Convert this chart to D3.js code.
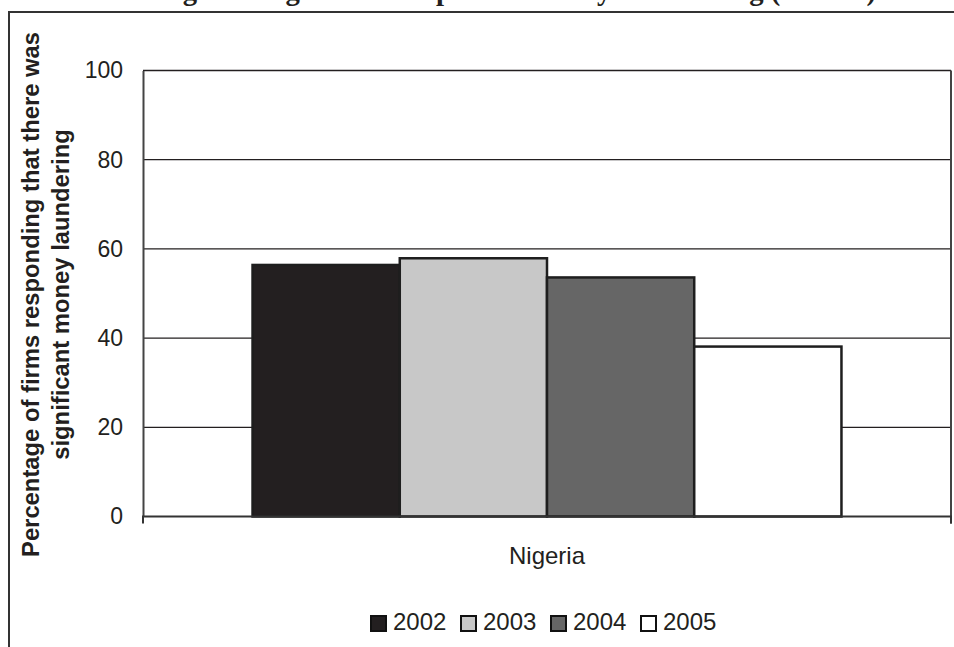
<!DOCTYPE html>
<html>
<head>
<meta charset="utf-8">
<script src="https://cdn.jsdelivr.net/npm/d3@7"></script>
<style>
  body { margin: 0; background: #fff; }
  svg { display: block; }
</style>
</head>
<body>
<script>
// Survey data: share of firms reporting significant money laundering, Nigeria
const categories = ["Nigeria"];
const years = ["2002", "2003", "2004", "2005"];
const values = [56.4, 57.9, 53.6, 38.1];
const yTicks = [0, 20, 40, 60, 80, 100];
const titleText = "Nigeria: Significant Impact of Money Laundering (2002–5)";
const yTitleLines = ["Percentage of firms responding that there was", "significant money laundering"];

const fills = ["#231f20", "#c8c8c8", "#666666", "#ffffff"];
const ink = "#231f20";

const W = 954, H = 647;
const plot = { left: 143, right: 951, top: 70.5, bottom: 516.5 };

const svg = d3.select("body").append("svg").attr("width", W).attr("height", H);

// outer frame (continues past the right and bottom edges)
svg.append("rect")
  .attr("x", 9).attr("y", 12).attr("width", W + 20).attr("height", H + 20)
  .attr("fill", "none").attr("stroke", "#333").attr("stroke-width", 2);

// title, sitting above the top edge of the page
svg.append("text")
  .attr("x", 154).attr("y", -0.5)
  .attr("font-family", "Liberation Serif, Times New Roman, serif")
  .attr("font-weight", "bold").attr("font-size", 28.7)
  .attr("fill", ink)
  .text(titleText);

const y = d3.scaleLinear().domain([0, 100]).range([plot.bottom, plot.top]);
const x0 = d3.scaleBand().domain(categories).range([plot.left, plot.right])
  .paddingInner(0).paddingOuter(0.186);
const x1 = d3.scaleBand().domain(years).range([0, x0.bandwidth()]).padding(0);

// horizontal gridlines
svg.append("g").selectAll("line").data(yTicks.filter(d => d > 0)).join("line")
  .attr("x1", plot.left).attr("x2", plot.right)
  .attr("y1", d => y(d)).attr("y2", d => y(d))
  .attr("stroke", ink).attr("stroke-width", 1.3);

// y axis
const yAxis = svg.append("g")
  .attr("transform", `translate(${plot.left},0)`)
  .call(d3.axisLeft(y).tickValues(yTicks).tickSize(0).tickPadding(20));
yAxis.select(".domain").attr("stroke", "#444").attr("stroke-width", 2);
yAxis.selectAll("text")
  .attr("font-family", "Liberation Sans, Arial, sans-serif")
  .attr("font-size", 23).attr("fill", ink);

// right border of plot area
svg.append("line")
  .attr("x1", plot.right).attr("x2", plot.right)
  .attr("y1", plot.top).attr("y2", plot.bottom + 7)
  .attr("stroke", "#444").attr("stroke-width", 2);

// bars
const group = svg.append("g").selectAll("g").data(categories).join("g")
  .attr("transform", d => `translate(${x0(d)},0)`);
group.selectAll("rect")
  .data(() => years.map((yr, i) => ({ yr, v: values[i], i })))
  .join("rect")
  .attr("x", d => x1(d.yr)).attr("width", x1.bandwidth())
  .attr("y", d => y(d.v)).attr("height", d => y(0) - y(d.v))
  .attr("fill", d => fills[d.i])
  .attr("stroke", "#1e1e1e").attr("stroke-width", 2.5);

// x axis
const xAxis = svg.append("g")
  .attr("transform", `translate(0,${plot.bottom})`)
  .call(d3.axisBottom(x0).tickSize(0).tickPadding(30));
xAxis.select(".domain").attr("stroke", "#333").attr("stroke-width", 2)
  .attr("d", `M${plot.left},7V0H${plot.right}V7`);
xAxis.selectAll("text")
  .attr("font-family", "Liberation Sans, Arial, sans-serif")
  .attr("font-size", 24).attr("fill", ink);

// y axis title
const yTitle = svg.append("text")
  .attr("transform", "translate(31,294.5) rotate(-90)")
  .attr("text-anchor", "middle")
  .attr("font-family", "Liberation Sans, Arial, sans-serif")
  .attr("font-weight", "bold").attr("font-size", 23.8)
  .attr("fill", ink);
yTitle.selectAll("tspan").data(yTitleLines).join("tspan")
  .attr("x", 0).attr("dy", (d, i) => i === 0 ? "0.35em" : "1.25em")
  .text(d => d);

// legend
const legend = svg.append("g").attr("transform", "translate(371,616)");
const item = legend.selectAll("g").data(years).join("g")
  .attr("transform", (d, i) => `translate(${i * 90},0)`);
item.append("rect")
  .attr("width", 15).attr("height", 15)
  .attr("fill", (d, i) => fills[i])
  .attr("stroke", "#111").attr("stroke-width", 2);
item.append("text")
  .attr("x", 22).attr("y", 14)
  .attr("font-family", "Liberation Sans, Arial, sans-serif")
  .attr("font-size", 24).attr("fill", ink)
  .text(d => d);
</script>
</body>
</html>
